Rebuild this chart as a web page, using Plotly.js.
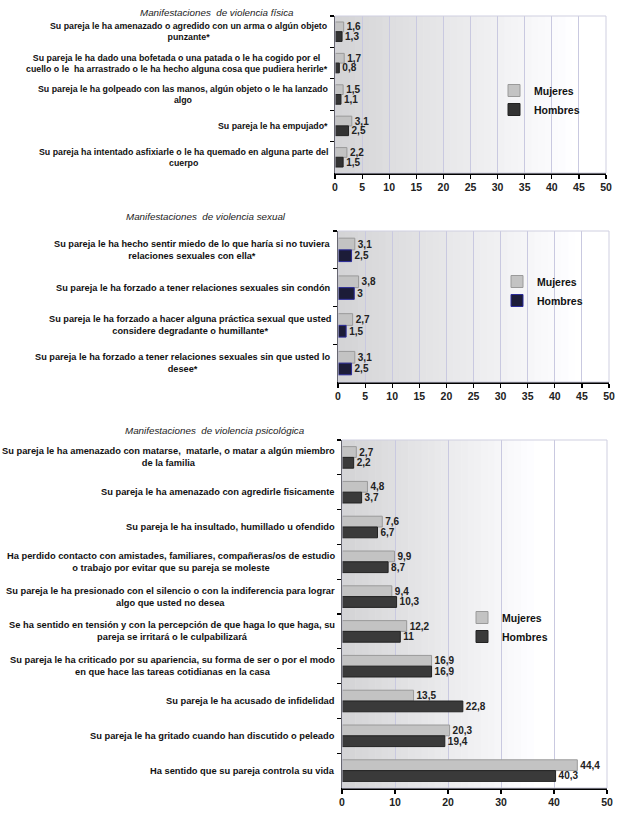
<!DOCTYPE html>
<html><head><meta charset="utf-8">
<script src="https://cdn.plot.ly/plotly-3.0.1.min.js"></script>
<style>html,body{margin:0;padding:0;background:#fff}#c{width:624px;height:816px}</style>
</head><body><div id="c"></div>
<script>
// ---- Data ----
const titleFis = "Manifestaciones  de violencia física";
const catFis = [
  "Su pareja le ha amenazado o agredido con un arma o algún objeto<br>punzante*",
  "Su pareja le ha dado una bofetada o una patada o le ha cogido por el<br>cuello o le  ha arrastrado o le ha hecho alguna cosa que pudiera herirle*",
  "Su pareja le ha golpeado con las manos, algún objeto o le ha lanzado<br>algo",
  "Su pareja le ha empujado*",
  "Su pareja ha intentado asfixiarle o le ha quemado en alguna parte del<br>cuerpo"
];
const mujFis = [1.6, 1.7, 1.5, 3.1, 2.2];
const homFis = [1.3, 0.8, 1.1, 2.5, 1.5];

const titleSex = "Manifestaciones  de violencia sexual";
const catSex = [
  "Su pareja le ha hecho sentir miedo de lo que haría si no tuviera<br>relaciones sexuales con ella*",
  "Su pareja le ha forzado a tener relaciones sexuales sin condón",
  "Su pareja le ha forzado a hacer alguna práctica sexual que usted<br>considere degradante o humillante*",
  "Su pareja le ha forzado a tener relaciones sexuales sin que usted lo<br>desee*"
];
const mujSex = [3.1, 3.8, 2.7, 3.1];
const homSex = [2.5, 3, 1.5, 2.5];

const titlePsi = "Manifestaciones  de violencia psicológica";
const catPsi = [
  "Su pareja le ha amenazado con matarse,  matarle, o matar a algún miembro<br>de la familia",
  "Su pareja le ha amenazado con agredirle fisicamente",
  "Su pareja le ha insultado, humillado u ofendido",
  "Ha perdido contacto con amistades, familiares, compañeras/os de estudio<br>o trabajo por evitar que su pareja se moleste",
  "Su pareja le ha presionado con el silencio o con la indiferencia para lograr<br>algo que usted no desea",
  "Se ha sentido en tensión y con la percepción de que haga lo que haga, su<br>pareja se irritará o le culpabilizará",
  "Su pareja le ha criticado por su apariencia, su forma de ser o por el modo<br>en que hace las tareas cotidianas en la casa",
  "Su pareja le ha acusado de infidelidad",
  "Su pareja le ha gritado cuando han discutido o peleado",
  "Ha sentido que su pareja controla su vida"
];
const mujPsi = [2.7, 4.8, 7.6, 9.9, 9.4, 12.2, 16.9, 13.5, 20.3, 44.4];
const homPsi = [2.2, 3.7, 6.7, 8.7, 10.3, 11, 16.9, 22.8, 19.4, 40.3];

const seriesNames = ["Mujeres", "Hombres"];
const xTicks5 = [0,5,10,15,20,25,30,35,40,45,50];
const xTicks10 = [0,10,20,30,40,50];

// ---- Helpers ----
const W = 624, H = 816;
const fmt = v => String(v).replace('.', ',');
const labFamily = "'Liberation Sans Narrow', 'Arial Narrow', Arial, 'Liberation Sans', sans-serif";
const numFont = {family: "Arial, 'Liberation Sans', sans-serif", size: 10, color: '#222', weight: 'bold'};

// pixel boxes: [left, right, top, bottom]
const boxes = [[335, 606, 16, 173], [338, 609, 231, 382], [342, 607, 440, 788]];
const px2x = p => p / W, py2y = p => 1 - p / H;

const charts = [
  {cats: catFis, m: mujFis, h: homFis, title: titleFis, titleXY: [217, 13], ticks: xTicks5, leg: [494, 76], hCol: '#333333', hLine: '#222', gap: 0.42, fadeTo: 0.9, lab: 8.8},
  {cats: catSex, m: mujSex, h: homSex, title: titleSex, titleXY: [206, 217], ticks: xTicks5, leg: [497, 267], hCol: '#1c1c38', hLine: '#2b2b9a', gap: 0.38, fadeTo: 0.9, lab: 9.2},
  {cats: catPsi, m: mujPsi, h: homPsi, title: titlePsi, titleXY: [215, 430], ticks: xTicks10, leg: [462, 603], hCol: '#3a3a3a', hLine: '#222', gap: 0.38, fadeTo: 0.75, lab: 9.3}
];

const data = [], shapes = [], annotations = [];
const layout = {
  width: W, height: H, margin: {l: 0, r: 0, t: 0, b: 0},
  paper_bgcolor: '#fff', plot_bgcolor: 'rgba(0,0,0,0)',
  showlegend: true, barmode: 'group', font: {family: numFont.family, size: 10, color: '#222'}
};

charts.forEach((c, i) => {
  const n = i + 1;
  const xa = n === 1 ? 'x' : 'x' + n, ya = n === 1 ? 'y' : 'y' + n;
  const xk = n === 1 ? 'xaxis' : 'xaxis' + n, yk = n === 1 ? 'yaxis' : 'yaxis' + n;
  const lk = n === 1 ? 'legend' : 'legend' + n;
  const [L, R, T, B] = boxes[i];
  layout[xk] = {
    domain: [px2x(L), px2x(R)], anchor: ya, range: [0, 50],
    tickvals: c.ticks, ticktext: c.ticks.map(String),
    showgrid: true, gridcolor: '#c9c9e0', gridwidth: 1,
    showline: true, linecolor: '#000', linewidth: 1.5,
    ticks: 'outside', ticklen: 4, tickcolor: '#000', tickwidth: 1.2,
    tickfont: {family: numFont.family, size: 10.5, color: '#222', weight: 'bold'},
    zeroline: false, fixedrange: true
  };
  layout[yk] = {
    domain: [py2y(B), py2y(T)], anchor: xa, type: 'category',
    categoryorder: 'array', categoryarray: c.cats, autorange: 'reversed',
    showticklabels: false, showline: true, linecolor: '#000', linewidth: 1.5,
    ticks: 'outside', tickson: 'boundaries', ticklen: 4, tickcolor: '#000', tickwidth: 1.2,
    showgrid: false, zeroline: false, fixedrange: true
  };
  layout[lk] = {
    x: px2x(c.leg[0]), y: py2y(c.leg[1]), xanchor: 'left', yanchor: 'top',
    xref: 'paper', yref: 'paper', bgcolor: 'rgba(0,0,0,0)',
    font: {family: numFont.family, size: 10.5, color: '#111', weight: 'bold'},
    itemwidth: 30, tracegroupgap: 0, traceorder: 'normal'
  };
  layout.bargap = c.gap;

  data.push({
    type: 'bar', orientation: 'h', name: seriesNames[0], legend: lk,
    x: c.m, y: c.cats, xaxis: xa, yaxis: ya,
    marker: {color: '#c3c3c3', line: {color: '#9a9a9a', width: 1}},
    text: c.m.map(fmt), textposition: 'outside', cliponaxis: false, constraintext: 'none',
    textfont: numFont, offsetgroup: 'm' + n, hoverinfo: 'skip'
  });
  data.push({
    type: 'bar', orientation: 'h', name: seriesNames[1], legend: lk,
    x: c.h, y: c.cats, xaxis: xa, yaxis: ya,
    marker: {color: c.hCol, line: {color: c.hLine, width: 1}},
    text: c.h.map(fmt), textposition: 'outside', cliponaxis: false, constraintext: 'none',
    textfont: numFont, offsetgroup: 'h' + n, hoverinfo: 'skip'
  });

  // gradient background bands
  const N = 40;
  for (let k = 0; k < N; k++) {
    const t = k / (N - 1);
    const f = Math.min(1, t / c.fadeTo);
    const g = Math.round(212 + (255 - 212) * f);
    shapes.push({type: 'rect', xref: xa + ' domain', yref: ya + ' domain', layer: 'below',
      x0: k / N, x1: (k + 1) / N + 0.002, y0: 0, y1: 1,
      fillcolor: `rgb(${g},${g},${Math.min(255, g + 2)})`, line: {width: 0}});
  }
  shapes.push({type: 'rect', xref: xa + ' domain', yref: ya + ' domain', layer: 'above',
    x0: 0, x1: 1, y0: 0, y1: 1, line: {color: '#cfcfe0', width: 1}, fillcolor: 'rgba(0,0,0,0)'});

  // title
  annotations.push({text: c.title, xref: 'paper', yref: 'paper', x: px2x(c.titleXY[0]), y: py2y(c.titleXY[1]),
    xanchor: 'center', yanchor: 'middle', showarrow: false,
    font: {family: "Arial, 'Liberation Sans', sans-serif", size: 9.8, color: '#222', style: 'italic', weight: 'normal'}});
  // category labels
  c.cats.forEach(cat => {
    annotations.push({text: cat, xref: 'paper', yref: ya, x: px2x(L - 5), y: cat,
      xanchor: 'right', yanchor: 'middle', align: 'center', showarrow: false,
      font: {family: labFamily, size: c.lab, color: '#111', weight: 'bold'}});
  });
});

layout.shapes = shapes;
layout.annotations = annotations;
layout.separators = ',.';
Plotly.newPlot('c', data, layout, {staticPlot: true, displayModeBar: false});
</script>
</body></html>
